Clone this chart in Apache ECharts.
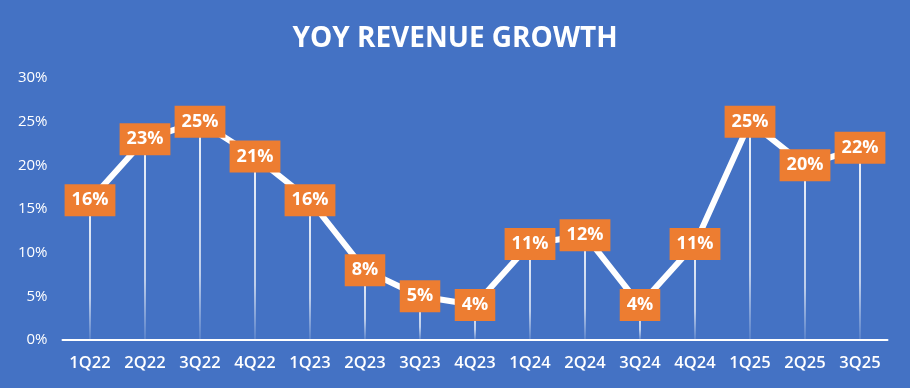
<!DOCTYPE html>
<html>
<head>
<meta charset="utf-8">
<script src="https://cdn.jsdelivr.net/npm/echarts@6/dist/echarts.min.js"></script>
<style>html,body{margin:0;padding:0;background:#4472C4;}#c{width:910px;height:388px;}</style>
</head>
<body>
<div id="c"></div>
<script>
var categories = ['1Q22','2Q22','3Q22','4Q22','1Q23','2Q23','3Q23','4Q23','1Q24','2Q24','3Q24','4Q24','1Q25','2Q25','3Q25'];
var growth = [16, 23, 25, 21, 16, 8, 5, 4, 11, 12, 4, 11, 25, 20, 22];
var yTicks = [0, 5, 10, 15, 20, 25, 30];

var chart = echarts.init(document.getElementById('c'));
chart.setOption({
  backgroundColor: '#4472C4',
  animation: false,
  title: {
    text: 'YOY REVENUE GROWTH',
    left: 'center',
    top: 20,
    textStyle: { color: '#FFFFFF', fontFamily: 'Open Sans', fontWeight: 'bold', fontSize: 28 }
  },
  grid: { left: 62.5, right: 22.5, top: 78, bottom: 48 },
  xAxis: {
    type: 'category',
    data: categories,
    axisLine: { lineStyle: { color: '#FFFFFF', width: 2 } },
    axisTick: { show: false },
    axisLabel: { interval: 0, color: '#FFFFFF', fontFamily: 'Open Sans', fontWeight: 600, fontSize: 16.5, margin: 15 }
  },
  yAxis: {
    type: 'value',
    min: yTicks[0],
    max: yTicks[yTicks.length - 1],
    interval: 5,
    splitLine: { show: false },
    axisLine: { show: false },
    axisTick: { show: false },
    axisLabel: { color: '#FFFFFF', fontFamily: 'Open Sans', fontSize: 15, margin: 15, formatter: '{value}%' }
  },
  series: [
    {
      type: 'bar',
      data: growth,
      barWidth: 2,
      silent: true,
      itemStyle: {
        color: new echarts.graphic.LinearGradient(0, 0, 0, 1, [
          { offset: 0, color: 'rgba(255,255,255,0.9)' },
          { offset: 0.7, color: 'rgba(255,255,255,0.65)' },
          { offset: 1, color: 'rgba(255,255,255,0.1)' }
        ])
      },
      z: 1
    },
    {
      type: 'line',
      data: growth,
      symbol: 'none',
      lineStyle: { color: '#FFFFFF', width: 6 },
      z: 3
    },
    {
      type: 'scatter',
      data: growth,
      symbolSize: 4,
      itemStyle: { color: 'rgba(0,0,0,0)', opacity: 1 },
      z: 5,
      label: {
        show: true,
        position: 'inside',
        formatter: '{c}%',
        color: '#FFFFFF',
        fontFamily: 'Open Sans',
        fontWeight: 'bold',
        fontSize: 18,
        lineHeight: 20,
        backgroundColor: '#ED7D31',
        padding: [6, 7, 6, 7]
      },
      labelLayout: { hideOverlap: false }
    }
  ]
});
</script>
</body>
</html>
